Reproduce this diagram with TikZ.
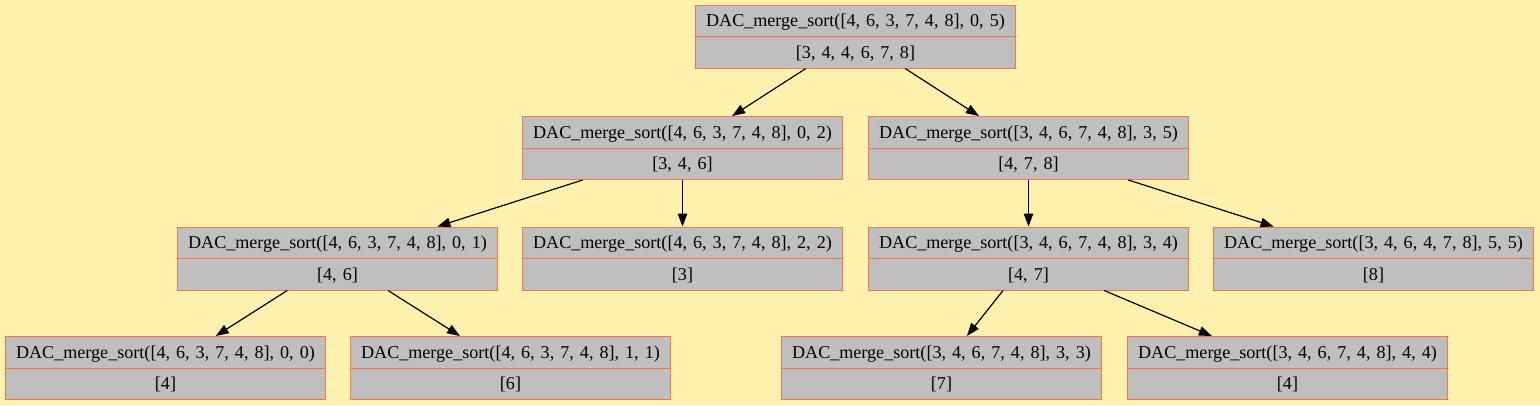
\documentclass[tikz,border=0pt]{standalone}
\usepackage{fontspec}
\setmainfont{Liberation Serif}
\usetikzlibrary{shapes.multipart,arrows.meta}
\definecolor{bgyellow}{RGB}{255,242,174}
\definecolor{cellgray}{RGB}{191,191,191}
\definecolor{borderred}{RGB}{250,118,72}
\newcommand{\cellstrut}{\rule[-9.5pt]{0pt}{30.5pt}}

\begin{document}
\begin{tikzpicture}
    [x=1pt, y=-1pt,
    call/.style={rectangle split, rectangle split parts=2, draw=borderred, fill=cellgray,
        line width=1pt, inner xsep=0pt, inner ysep=0pt, text width=320pt, align=center,
        font=\fontsize{18.1}{21}\selectfont},
    edge/.style={-{Triangle[length=13pt,width=9.5pt]}, line width=1.2pt}]
        \fill[bgyellow] (0,0) rectangle (1540,405);
        \useasboundingbox (0,0) rectangle (1540,405);

        \node[call] (M) at (855.5,36.5) {\cellstrut DAC\_merge\_sort([4, 6, 3, 7, 4, 8], 0, 5)\nodepart{two}\cellstrut [3, 4, 4, 6, 7, 8]};
        \node[call] (M1) at (682.5,148) {\cellstrut DAC\_merge\_sort([4, 6, 3, 7, 4, 8], 0, 2)\nodepart{two}\cellstrut [3, 4, 6]};
        \node[call] (M2) at (1028.5,148) {\cellstrut DAC\_merge\_sort([3, 4, 6, 7, 4, 8], 3, 5)\nodepart{two}\cellstrut [4, 7, 8]};
        \node[call] (M11) at (337.5,258.5) {\cellstrut DAC\_merge\_sort([4, 6, 3, 7, 4, 8], 0, 1)\nodepart{two}\cellstrut [4, 6]};
        \node[call] (M12) at (682.5,258.5) {\cellstrut DAC\_merge\_sort([4, 6, 3, 7, 4, 8], 2, 2)\nodepart{two}\cellstrut [3]};
        \node[call] (M21) at (1028.5,258.5) {\cellstrut DAC\_merge\_sort([3, 4, 6, 7, 4, 8], 3, 4)\nodepart{two}\cellstrut [4, 7]};
        \node[call] (M22) at (1373.5,258.5) {\cellstrut DAC\_merge\_sort([3, 4, 6, 4, 7, 8], 5, 5)\nodepart{two}\cellstrut [8]};
        \node[call] (M111) at (165.5,368) {\cellstrut DAC\_merge\_sort([4, 6, 3, 7, 4, 8], 0, 0)\nodepart{two}\cellstrut [4]};
        \node[call] (M112) at (510.5,368) {\cellstrut DAC\_merge\_sort([4, 6, 3, 7, 4, 8], 1, 1)\nodepart{two}\cellstrut [6]};
        \node[call] (M211) at (941.5,368) {\cellstrut DAC\_merge\_sort([3, 4, 6, 7, 4, 8], 3, 3)\nodepart{two}\cellstrut [7]};
        \node[call] (M212) at (1287.5,368) {\cellstrut DAC\_merge\_sort([3, 4, 6, 7, 4, 8], 4, 4)\nodepart{two}\cellstrut [4]};

        \draw[edge] (M) to (M1);
        \draw[edge] (M) to (M2);
        \draw[edge] (M1) to (M11);
        \draw[edge] (M1) to (M12);
        \draw[edge] (M2) to (M21);
        \draw[edge] (M2) to (M22);
        \draw[edge] (M11) to (M111);
        \draw[edge] (M11) to (M112);
        \draw[edge] (M21) to (M211);
        \draw[edge] (M21) to (M212);
   \end{tikzpicture}
\end{document}
